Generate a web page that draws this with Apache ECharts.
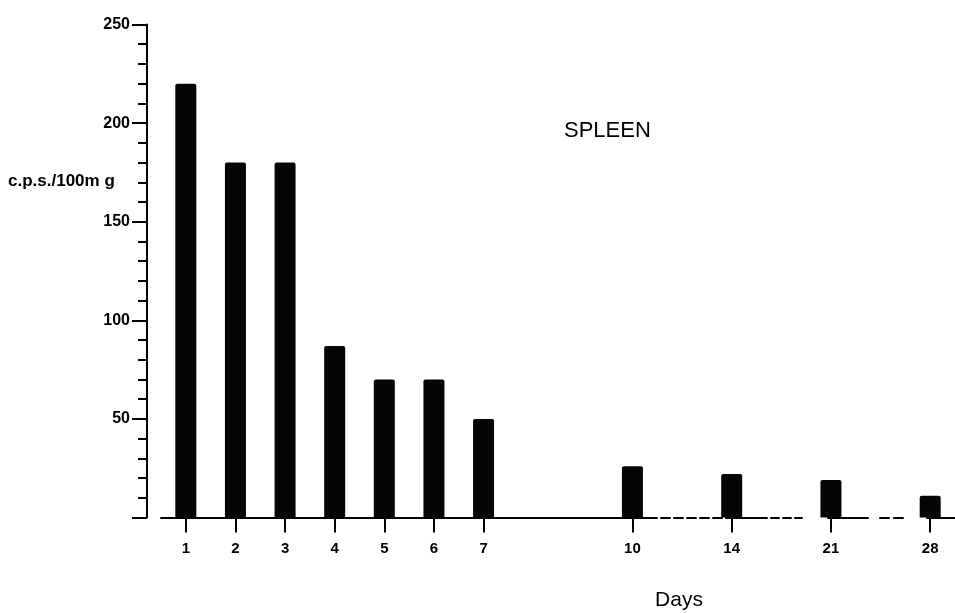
<!DOCTYPE html>
<html>
<head>
<meta charset="utf-8">
<title>Spleen activity by day</title>
<script src="https://cdn.jsdelivr.net/npm/echarts@6/dist/echarts.min.js"></script>
<style>
  html, body { margin: 0; padding: 0; background: #fff; }
  #chart { width: 955px; height: 613px; }
</style>
</head>
<body>
<div id="chart"></div>
<script>
// Day slots along the x axis; empty slots leave the gaps between sampling days.
const days = ['1', '2', '3', '4', '5', '6', '7', '', '', '10', '', '14', '', '21', '', '28'];
// Counts per second per 100 mg of spleen tissue.
const cps = [220, 180, 180, 87, 70, 70, 50, null, null, 26, null, 22, null, 19, null, 11];
// Y axis range and step.
const yMin = 0;
const yMax = 250;
const yStep = 50;

const ink = '#000';
const labelFont = '"Liberation Sans", Arial, sans-serif';

const chart = echarts.init(document.getElementById('chart'), null, { renderer: 'canvas' });

chart.setOption({
  backgroundColor: '#fff',
  animation: false,
  grid: { left: 161, right: -14, top: 24.5, bottom: 95.5, containLabel: false },
  xAxis: {
    type: 'category',
    data: days,
    boundaryGap: true,
    axisLine: {
      lineStyle: {
        color: ink,
        width: 2,
        // solid through day 10, broken afterwards
        type: [496, 4, 9, 4, 9, 4, 9, 4, 9, 4, 9, 4, 41, 4, 8, 4, 8, 4, 7, 26, 40, 12, 9, 5, 9, 24, 100]
      }
    },
    axisTick: {
      show: true,
      alignWithLabel: true,
      interval: (idx, val) => val !== '',
      length: 15,
      lineStyle: { color: ink, width: 2 }
    },
    axisLabel: {
      interval: 0,
      margin: 24,
      color: ink,
      fontFamily: labelFont,
      fontWeight: 'bold',
      fontSize: 15
    },
    splitLine: { show: false }
  },
  yAxis: {
    type: 'value',
    min: yMin,
    max: yMax,
    interval: yStep,
    offset: 14,
    axisLine: { show: true, lineStyle: { color: ink, width: 2 } },
    axisTick: { show: true, length: 15, lineStyle: { color: ink, width: 2 } },
    minorTick: { show: true, splitNumber: 5, length: 9, lineStyle: { color: ink, width: 2 } },
    axisLabel: {
      margin: 17,
      color: ink,
      fontFamily: labelFont,
      fontWeight: 'bold',
      fontSize: 16,
      formatter: v => (v === 0 ? '' : String(v))
    },
    splitLine: { show: false },
    minorSplitLine: { show: false }
  },
  series: [
    {
      name: 'Spleen',
      type: 'bar',
      data: cps,
      barWidth: 21,
      itemStyle: { color: '#050505', borderRadius: [2, 2, 0, 0] },
      z: 3
    }
  ],
  graphic: [
    {
      type: 'text',
      x: 8,
      y: 181,
      style: {
        text: 'c.p.s./100m g',
        fill: ink,
        font: 'bold 17px ' + labelFont,
        textAlign: 'left',
        textVerticalAlign: 'middle'
      }
    },
    {
      type: 'text',
      x: 564,
      y: 131,
      style: {
        text: 'SPLEEN',
        fill: ink,
        font: '22px ' + labelFont,
        textAlign: 'left',
        textVerticalAlign: 'middle'
      }
    },
    {
      type: 'text',
      x: 679,
      y: 600,
      style: {
        text: 'Days',
        fill: ink,
        font: '21px ' + labelFont,
        textAlign: 'center',
        textVerticalAlign: 'middle'
      }
    }
  ]
});
</script>
</body>
</html>
